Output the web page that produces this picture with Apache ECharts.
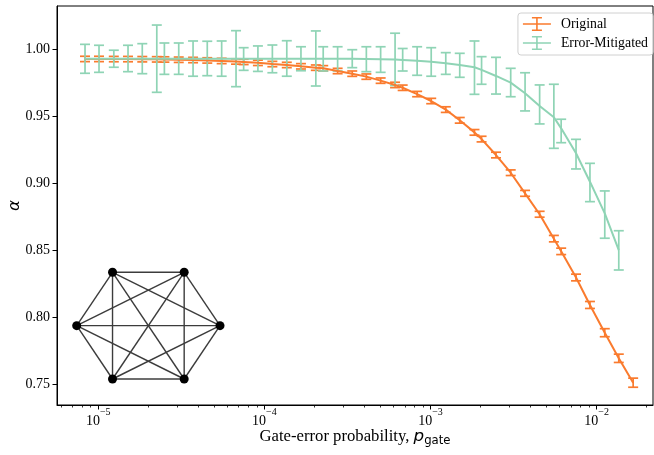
<!DOCTYPE html>
<html>
<head>
<meta charset="utf-8">
<script src="https://cdn.jsdelivr.net/npm/echarts@6.0.0/dist/echarts.min.js"></script>
<style>
  html, body { margin: 0; padding: 0; background: #fff; }
  #chart { width: 654px; height: 455px; }
</style>
</head>
<body>
<div id="chart"></div>
<script>
// Gate-error probability for every simulated point
const pGate = [
  8.32e-6, 1.01e-5, 1.24e-5, 1.51e-5, 1.84e-5, 2.25e-5, 2.50e-5, 3.05e-5, 3.72e-5, 4.53e-5,
  5.53e-5, 6.75e-5, 7.50e-5, 9.14e-5, 1.117e-4, 1.364e-4, 1.66e-4, 2.04e-4, 2.26e-4, 2.76e-4,
  3.38e-4, 4.11e-4, 5.01e-4, 6.12e-4, 6.80e-4, 8.31e-4, 1.01e-3, 1.236e-3, 1.50e-3, 1.84e-3,
  2.03e-3, 2.48e-3, 3.04e-3, 3.71e-3, 4.54e-3, 5.53e-3, 6.12e-3, 7.52e-3, 9.12e-3, 1.12e-2,
  1.36e-2, 1.66e-2
];

// Original (unmitigated) alpha and its symmetric error
const alphaOriginal = [
  0.9928, 0.9928, 0.9927, 0.9927, 0.9926, 0.9925, 0.9924, 0.9922, 0.9920, 0.9917,
  0.9913, 0.9909, 0.9906, 0.9899, 0.9890, 0.9883, 0.9873, 0.9863, 0.9858, 0.9838,
  0.9818, 0.9796, 0.9766, 0.9734, 0.9713, 0.9666, 0.9614, 0.9550, 0.9470, 0.9380,
  0.9330, 0.9211, 0.9079, 0.8925, 0.8769, 0.8587, 0.8492, 0.8297, 0.8092, 0.7885,
  0.7694, 0.7512
];
const errOriginal = [
  0.0020, 0.0020, 0.0020, 0.0020, 0.0020, 0.0020, 0.0020, 0.0020, 0.0020, 0.0020,
  0.0020, 0.0020, 0.0020, 0.0020, 0.0020, 0.0020, 0.0020, 0.0020, 0.0020, 0.0020,
  0.0020, 0.0020, 0.0020, 0.0020, 0.0020, 0.0020, 0.0020, 0.0021, 0.0021, 0.0021,
  0.0021, 0.0021, 0.0021, 0.0022, 0.0022, 0.0024, 0.0024, 0.0025, 0.0026, 0.0030,
  0.0031, 0.0034
];

// Error-mitigated alpha with its lower / upper error limits
const alphaMitigated = [
  0.9930, 0.9930, 0.9930, 0.9930, 0.9930, 0.9930, 0.9930, 0.9930, 0.9930, 0.9930,
  0.9930, 0.9930, 0.9930, 0.9930, 0.9930, 0.9930, 0.9930, 0.9930, 0.9930, 0.9930,
  0.9929, 0.9928, 0.9926, 0.9923, 0.9921, 0.9915, 0.9907, 0.9896, 0.9883, 0.9866,
  0.9846, 0.9801, 0.9751, 0.9672, 0.9577, 0.9493, 0.9410, 0.9224, 0.9012, 0.8776,
  0.8502
];
const mitigatedUpper = [
  1.0037, 1.0030, 0.9993, 1.0030, 1.0042, 1.0181, 1.0047, 1.0047, 1.0062, 1.0060,
  1.0062, 1.0139, 1.0012, 1.0025, 1.0032, 1.0064, 1.0019, 1.0137, 1.0019, 1.0019,
  0.9997, 1.0019, 1.0019, 1.0120, 1.0006, 1.0019, 1.0012, 0.9975, 0.9970, 1.0062,
  0.9945, 0.9940, 0.9858, 0.9825, 0.9734, 0.9739, 0.9478, 0.9328, 0.9149, 0.8943,
  0.8646
];
const mitigatedLower = [
  0.9821, 0.9828, 0.9866, 0.9833, 0.9818, 0.9679, 0.9813, 0.9813, 0.9799, 0.9803,
  0.9799, 0.9721, 0.9843, 0.9835, 0.9825, 0.9799, 0.9840, 0.9726, 0.9838, 0.9838,
  0.9863, 0.9833, 0.9828, 0.9730, 0.9838, 0.9806, 0.9799, 0.9813, 0.9791, 0.9664,
  0.9739, 0.9666, 0.9646, 0.9540, 0.9443, 0.9261, 0.9303, 0.9107, 0.8863, 0.8590,
  0.8353
];

const seriesNames = ['Original', 'Error-Mitigated'];
const seriesColors = ['#fa7b2e', '#8fd4b5'];
const xTickExponents = [-5, -4, -3, -2];
const yTicks = [0.75, 0.80, 0.85, 0.90, 0.95, 1.00];
const xRange = [-5.2486, -1.6604];   // log10 of the axis limits
const yRange = [0.73455, 1.03231];
const graphNodeCount = 6;            // complete graph drawn in the inset
const insetAspect = 0.7446;          // inset height / width

const serif = 'Liberation Serif';
const sans = 'DejaVu Sans';

// minor ticks at 2..9 x 10^k (in log10 units)
const minorTicks = [];
for (let k = -6; k <= -2; k++) {
  for (let m = 2; m <= 9; m++) {
    const v = Math.log10(m * Math.pow(10, k));
    if (v > xRange[0] && v < xRange[1]) minorTicks.push(v);
  }
}

const lineData = (vals) => vals.map((a, i) => [Math.log10(pGate[i]), a]);
const origBars = alphaOriginal.map((a, i) => [Math.log10(pGate[i]), a - errOriginal[i], a + errOriginal[i]]);
const mitBars = alphaMitigated.map((a, i) => [Math.log10(pGate[i]), mitigatedLower[i], mitigatedUpper[i]]);

function errorBars(name, color, data) {
  const capHalf = 5;
  return {
    type: 'custom',
    name: name,
    data: data,
    encode: { x: 0, y: [1, 2] },
    silent: true,
    renderItem: function (params, api) {
      const x = api.value(0);
      const lo = api.coord([x, api.value(1)]);
      const hi = api.coord([x, api.value(2)]);
      const style = { stroke: color, lineWidth: 1.7, fill: null };
      return {
        type: 'group',
        children: [
          { type: 'line', shape: { x1: lo[0], y1: lo[1], x2: hi[0], y2: hi[1] }, style: style },
          { type: 'line', shape: { x1: lo[0] - capHalf, y1: lo[1], x2: lo[0] + capHalf, y2: lo[1] }, style: style },
          { type: 'line', shape: { x1: hi[0] - capHalf, y1: hi[1], x2: hi[0] + capHalf, y2: hi[1] }, style: style }
        ]
      };
    }
  };
}

function curve(name, color, vals) {
  return {
    type: 'line',
    name: name,
    data: lineData(vals),
    showSymbol: false,
    symbol: 'none',
    lineStyle: { color: color, width: 2 },
    itemStyle: { color: color },
    silent: true
  };
}

// inset: complete graph on a hexagon (unit circumradius, squashed to the inset aspect)
const hexNodes = [];
for (let k = 0; k < graphNodeCount; k++) {
  const t = k * 2 * Math.PI / graphNodeCount;
  hexNodes.push([Math.cos(t), Math.sin(t) * insetAspect / Math.sin(Math.PI / 3)]);
}
const hexEdges = [];
for (let a = 0; a < graphNodeCount; a++) {
  for (let b = a + 1; b < graphNodeCount; b++) {
    hexEdges.push([hexNodes[a][0], hexNodes[a][1], hexNodes[b][0], hexNodes[b][1]]);
  }
}

const errIcon = 'path://M0,6.2H28V7.8H0Z M13.2,0H14.8V14H13.2Z M9,0H19V1.6H9Z M9,12.4H19V14H9Z';

const chart = echarts.init(document.getElementById('chart'), null, { renderer: 'canvas' });

chart.setOption({
  animation: false,
  backgroundColor: '#fff',
  grid: [
    {
      left: 57, right: 1, top: 6, bottom: 50,
      outerBoundsMode: 'none', containLabel: false,
      show: true, borderColor: '#000', borderWidth: 1, backgroundColor: 'transparent'
    },
    {
      left: 76.7, top: 272.3, width: 143.3, height: 106.7,
      outerBoundsMode: 'none', containLabel: false, show: false
    }
  ],
  legend: {
    orient: 'vertical',
    right: 1, top: 13,
    data: seriesNames.map(n => ({ name: n, icon: errIcon })),
    itemWidth: 28, itemHeight: 14, itemGap: 5,
    padding: [4, 5, 5, 5],
    backgroundColor: 'rgba(255,255,255,0.8)',
    borderColor: '#d0d0d0', borderWidth: 1, borderRadius: 3,
    itemStyle: { borderWidth: 0 },
    textStyle: { fontFamily: serif, fontSize: 13.8, color: '#000', padding: [0, 0, 0, 5] },
    selectedMode: false
  },
  xAxis: [
    {
      type: 'value', gridIndex: 0, min: xRange[0], max: xRange[1],
      position: 'bottom',
      name: '{n|Gate-error probability, }{p|p}{g|gate}',
      nameLocation: 'middle', nameGap: 23, nameMoveOverlap: false,
      nameTextStyle: {
        color: '#000',
        rich: {
          n: { fontFamily: serif, fontSize: 16.7, color: '#000', verticalAlign: 'top' },
          p: { fontFamily: sans, fontStyle: 'italic', fontSize: 16.7, color: '#000', verticalAlign: 'top' },
          g: { fontFamily: sans, fontSize: 11.7, color: '#000', verticalAlign: 'top', padding: [7, 0, 0, 0] }
        }
      },
      axisLine: { show: true, lineStyle: { color: '#000', width: 1 } },
      axisTick: { show: true, customValues: xTickExponents, length: 4.5, lineStyle: { color: '#000', width: 1 } },
      axisLabel: {
        show: true, customValues: xTickExponents, margin: 2,
        formatter: v => '{b|10}{s|\u2212' + Math.abs(Math.round(v)) + '}',
        rich: {
          b: { fontFamily: serif, fontSize: 14, color: '#000', verticalAlign: 'bottom', padding: [7.7, 0, 0, 0] },
          s: { fontFamily: serif, fontSize: 10, color: '#000', verticalAlign: 'top' }
        }
      },
      splitLine: { show: false }
    },
    {
      type: 'value', gridIndex: 0, min: xRange[0], max: xRange[1],
      position: 'bottom',
      axisLine: { show: false },
      axisTick: { show: true, customValues: minorTicks, length: 2.5, lineStyle: { color: '#000', width: 0.8 } },
      axisLabel: { show: false },
      splitLine: { show: false }
    },
    {
      type: 'value', gridIndex: 1, min: -1, max: 1, show: false
    }
  ],
  yAxis: [
    {
      type: 'value', gridIndex: 0, min: yRange[0], max: yRange[1],
      name: '\u03b1',
      nameLocation: 'middle', nameRotate: 90, nameGap: 33.5, nameMoveOverlap: false,
      nameTextStyle: { fontFamily: sans, fontStyle: 'italic', fontSize: 16.7, color: '#000' },
      axisLine: { show: true, lineStyle: { color: '#000', width: 1 } },
      axisTick: { show: true, customValues: yTicks, length: 4.5, lineStyle: { color: '#000', width: 1 } },
      axisLabel: {
        customValues: yTicks, margin: 7,
        fontFamily: serif, fontSize: 14, color: '#000',
        formatter: v => v.toFixed(2)
      },
      splitLine: { show: false }
    },
    {
      type: 'value', gridIndex: 1, min: -insetAspect, max: insetAspect, show: false
    }
  ],
  series: [
    curve(seriesNames[0], seriesColors[0], alphaOriginal),
    errorBars(seriesNames[0], seriesColors[0], origBars),
    curve(seriesNames[1], seriesColors[1], alphaMitigated),
    errorBars(seriesNames[1], seriesColors[1], mitBars),
    {
      type: 'custom',
      xAxisIndex: 2, yAxisIndex: 1,
      data: hexEdges,
      encode: { x: [0, 2], y: [1, 3] },
      silent: true, clip: false, z: 3,
      renderItem: function (params, api) {
        const a = api.coord([api.value(0), api.value(1)]);
        const b = api.coord([api.value(2), api.value(3)]);
        return {
          type: 'line',
          shape: { x1: a[0], y1: a[1], x2: b[0], y2: b[1] },
          style: { stroke: '#3c3c3c', lineWidth: 1.4, fill: null }
        };
      }
    },
    {
      type: 'scatter',
      xAxisIndex: 2, yAxisIndex: 1,
      data: hexNodes,
      symbol: 'circle', symbolSize: 9,
      itemStyle: { color: '#000', opacity: 1 },
      silent: true, clip: false, z: 4
    }
  ]
});
</script>
</body>
</html>
